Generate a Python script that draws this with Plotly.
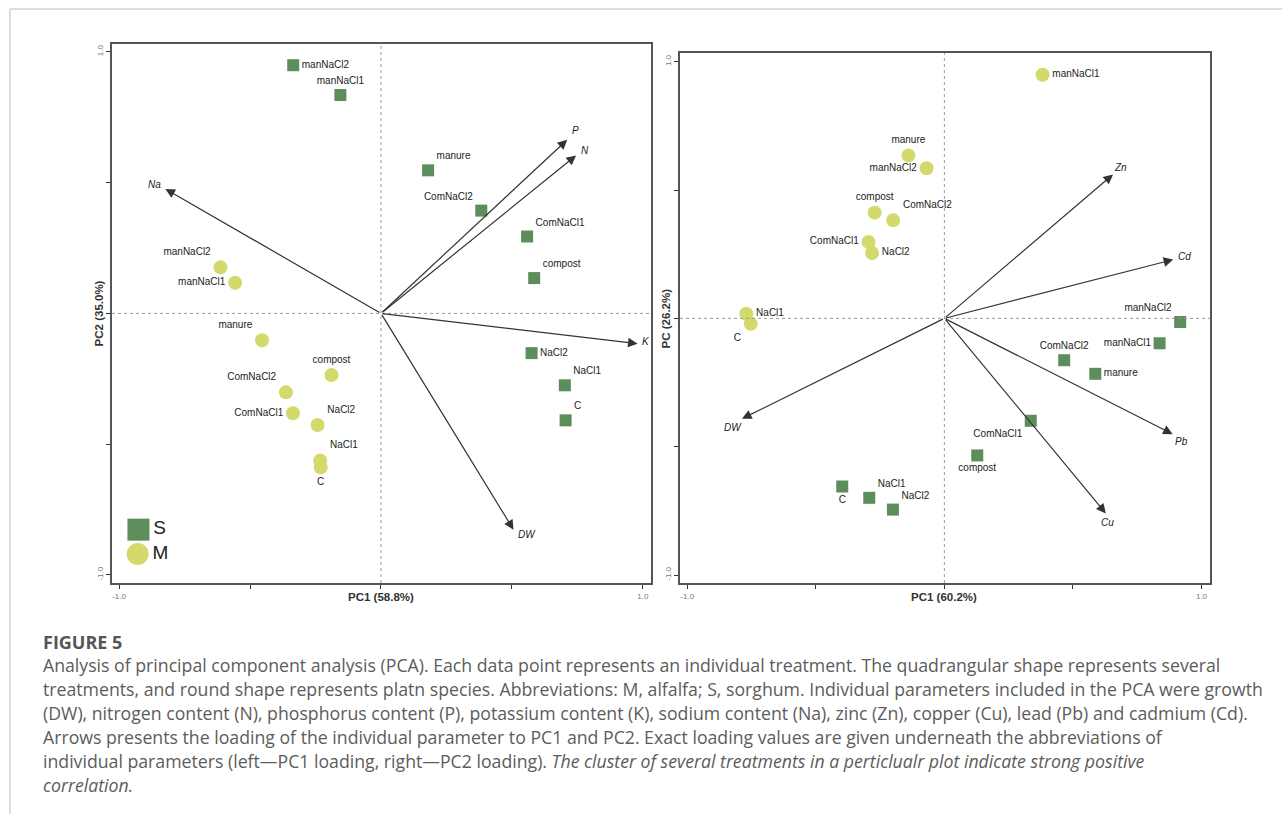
import plotly.graph_objects as go

# ---------------- data ----------------
treatments = ["C", "NaCl1", "NaCl2", "compost", "ComNaCl1", "ComNaCl2",
              "manure", "manNaCl1", "manNaCl2"]

# Panel A (nutrients): scores of sorghum (S) and alfalfa (M)
a_s_pc1 = [0.705, 0.702, 0.575, 0.585, 0.558, 0.383, 0.180, -0.155, -0.335]
a_s_pc2 = [-0.409, -0.275, -0.152, 0.135, 0.294, 0.393, 0.547, 0.835, 0.949]
a_m_pc1 = [-0.230, -0.232, -0.242, -0.189, -0.336, -0.363, -0.454, -0.557, -0.613]
a_m_pc2 = [-0.589, -0.563, -0.427, -0.236, -0.382, -0.302, -0.103, 0.117, 0.176]

a_params = ["P", "N", "Na", "K", "DW"]
a_load_pc1 = [0.711, 0.745, -0.823, 0.980, 0.506]
a_load_pc2 = [0.664, 0.604, 0.476, -0.116, -0.827]

# Panel B (heavy metals)
b_s_pc1 = [-0.397, -0.292, -0.200, 0.128, 0.336, 0.466, 0.587, 0.837, 0.917]
b_s_pc2 = [-0.655, -0.699, -0.745, -0.534, -0.399, -0.163, -0.216, -0.097, -0.014]
b_m_pc1 = [-0.753, -0.770, -0.281, -0.271, -0.295, -0.199, -0.140, 0.382, -0.069]
b_m_pc2 = [-0.021, 0.018, 0.255, 0.412, 0.298, 0.382, 0.635, 0.949, 0.585]

b_params = ["Zn", "Cd", "DW", "Pb", "Cu"]
b_load_pc1 = [0.656, 0.890, -0.787, 0.888, 0.628]
b_load_pc2 = [0.561, 0.229, -0.391, -0.451, -0.760]

axis_titles = {"a_x": "PC1 (58.8%)", "a_y": "PC2 (35.0%)",
               "b_x": "PC1 (60.2%)", "b_y": "PC (26.2%)"}
tick_vals = [-1.0, -0.5, 0.0, 0.5, 1.0]
tick_text = ["-1.0", "", "", "", "1.0"]

# ---------------- styling ----------------
W, H = 1282, 814
SQ_COLOR = "#5B8E5B"
CI_COLOR = "#D3D96A"
TXT = "#222222"
FONT = "Liberation Sans, Arial, sans-serif"

# label placement for each treatment (order follows `treatments`)
a_s_pos = ["top right", "top right", "middle right", "top right", "top right",
           "top left", "top right", "top center", "middle right"]
a_m_pos = ["bottom center", "top right", "top right", "top center", "middle left",
           "top left", "top left", "middle left", "top left"]
b_s_pos = ["bottom center", "top right", "top right", "bottom center", "bottom left",
           "top center", "middle right", "middle left", "top left"]
b_m_pos = ["bottom left", "middle right", "middle right", "top center", "middle left",
           "top right", "top center", "middle right", "middle left"]

# pixel offsets of arrow labels from arrow tips
a_lab_shift = [(8, 9), (9, 5), (-11, 4), (8, 2), (13, -5)]
b_lab_shift = [(7, 7), (11, 3), (-9, -9), (9, -7), (2, -9)]

fig = go.Figure()


def add_scores(xs, ys, pos, symbol, color, size, xa, ya):
    fig.add_trace(go.Scatter(
        x=xs, y=ys, mode="markers+text", text=treatments, textposition=pos,
        marker=dict(symbol=symbol, color=color, size=size, line=dict(width=0)),
        textfont=dict(family=FONT, size=10, color=TXT),
        xaxis=xa, yaxis=ya, showlegend=False, cliponaxis=False,
    ))


add_scores(a_s_pc1, a_s_pc2, a_s_pos, "square", SQ_COLOR, 12, "x", "y")
add_scores(a_m_pc1, a_m_pc2, a_m_pos, "circle", CI_COLOR, 14, "x", "y")
add_scores(b_s_pc1, b_s_pc2, b_s_pos, "square", SQ_COLOR, 12, "x2", "y2")
add_scores(b_m_pc1, b_m_pc2, b_m_pos, "circle", CI_COLOR, 14, "x2", "y2")

# key for the two species in panel A
species = ["S", "M"]
key_x = [-0.926, -0.929]
key_y = [-0.827, -0.920]
fig.add_trace(go.Scatter(
    x=key_x, y=key_y, mode="markers+text", text=species,
    textposition="middle right",
    marker=dict(symbol=["square", "circle"], color=[SQ_COLOR, CI_COLOR], size=22,
                line=dict(width=0)),
    textfont=dict(family=FONT, size=19, color=TXT),
    xaxis="x", yaxis="y", showlegend=False,
))

annotations = []
shapes = []


def add_loadings(names, l1, l2, shifts, xr, yr):
    for n, lx, ly, (dx, dy) in zip(names, l1, l2, shifts):
        annotations.append(dict(
            x=lx, y=ly, ax=0, ay=0, xref=xr, yref=yr, axref=xr, ayref=yr,
            text="", showarrow=True, arrowhead=2, arrowsize=1.6, arrowwidth=1.2,
            arrowcolor="#333333", standoff=0,
        ))
        annotations.append(dict(
            x=lx, y=ly, xref=xr, yref=yr, text=f"<i>{n}</i>", showarrow=False,
            xshift=dx, yshift=dy, font=dict(family=FONT, size=10, color=TXT),
        ))


add_loadings(a_params, a_load_pc1, a_load_pc2, a_lab_shift, "x", "y")
add_loadings(b_params, b_load_pc1, b_load_pc2, b_lab_shift, "x2", "y2")

# dotted reference lines through the origin
for xr, yr in [("x", "y"), ("x2", "y2")]:
    shapes.append(dict(type="line", xref=f"{xr} domain", yref=yr, x0=0, x1=1, y0=0, y1=0,
                       line=dict(color="#9a9a9a", width=1, dash="dot")))
    shapes.append(dict(type="line", xref=xr, yref=f"{yr} domain", x0=0, x1=0, y0=0, y1=1,
                       line=dict(color="#9a9a9a", width=1, dash="dot")))

# axis titles
title_font = dict(family=FONT, size=11.5, color="#333333")
y_title_row = 1 - 597 / H
annotations += [
    dict(x=0, y=y_title_row, xref="x", yref="paper", text=f"<b>{axis_titles['a_x']}</b>",
         showarrow=False, font=title_font, yanchor="middle"),
    dict(x=0, y=y_title_row, xref="x2", yref="paper", text=f"<b>{axis_titles['b_x']}</b>",
         showarrow=False, font=title_font, yanchor="middle"),
    dict(x=99 / W, y=0, xref="paper", yref="y", text=f"<b>{axis_titles['a_y']}</b>",
         showarrow=False, font=title_font, textangle=-90, xanchor="center"),
    dict(x=666 / W, y=0, xref="paper", yref="y2", text=f"<b>{axis_titles['b_y']}</b>",
         showarrow=False, font=title_font, textangle=-90, xanchor="center"),
]

# caption
CAP_FAMILY = "Open Sans, Noto Sans, sans-serif"
cap_font = dict(family=CAP_FAMILY, size=17.7, color="#5c5c5c")
caption = [
    "Analysis of principal component analysis (PCA). Each data point represents an individual treatment. The quadrangular shape represents several",
    "treatments, and round shape represents platn species. Abbreviations: M, alfalfa; S, sorghum. Individual parameters included in the PCA were growth",
    "(DW), nitrogen content (N), phosphorus content (P), potassium content (K), sodium content (Na), zinc (Zn), copper (Cu), lead (Pb) and cadmium (Cd).",
    "Arrows presents the loading of the individual parameter to PC1 and PC2. Exact loading values are given underneath the abbreviations of",
    "individual parameters (left\u2014PC1 loading, right\u2014PC2 loading). <i>The cluster of several treatments in a perticlualr plot indicate strong positive</i>",
    "<i>correlation.</i>",
]
annotations.append(dict(x=41 / W, y=1 - 642 / H, xref="paper", yref="paper",
                        text="<b>FIGURE 5</b>", showarrow=False, xanchor="left",
                        yanchor="middle", font=dict(family=CAP_FAMILY, size=18,
                                                    color="#555555")))
for i, line in enumerate(caption):
    annotations.append(dict(x=41 / W, y=1 - (665 + 24 * i) / H, xref="paper", yref="paper",
                            text=line, showarrow=False, xanchor="left", yanchor="middle",
                            font=cap_font))

# page border (top and left rules)
shapes.append(dict(type="line", xref="paper", yref="paper", x0=10 / W, x1=1, y0=1 - 9 / H,
                   y1=1 - 9 / H, line=dict(color="#d2d2d2", width=1.5)))
shapes.append(dict(type="line", xref="paper", yref="paper", x0=10 / W, x1=10 / W, y0=0,
                   y1=1 - 9 / H, line=dict(color="#d2d2d2", width=1.5)))


def axis(domain, rng, angle=0):
    return dict(domain=domain, range=rng, showgrid=False, zeroline=False,
                showline=True, mirror=True, linecolor="#555555", linewidth=2,
                ticks="outside", ticklen=4, tickwidth=1, tickcolor="#333333",
                tickvals=tick_vals, ticktext=tick_text, tickangle=angle,
                tickfont=dict(family=FONT, size=8, color="#777777"), fixedrange=True)


fig.update_layout(
    width=W, height=H, margin=dict(l=0, r=0, t=0, b=0),
    paper_bgcolor="white", plot_bgcolor="white",
    xaxis=axis([112 / W, 651 / W], [-1.027, 1.031]),
    yaxis=axis([1 - 583 / H, 1 - 43.5 / H], [-1.031, 1.032], angle=-90),
    xaxis2=dict(axis([680 / W, 1210 / W], [-1.028, 1.033]), anchor="y2"),
    yaxis2=dict(axis([1 - 583 / H, 1 - 53 / H], [-1.031, 1.034], angle=-90), anchor="x2"),
    annotations=annotations, shapes=shapes,
)
fig.update_layout(xaxis=dict(anchor="y"), yaxis=dict(anchor="x"))

fig.write_html("out.html")
